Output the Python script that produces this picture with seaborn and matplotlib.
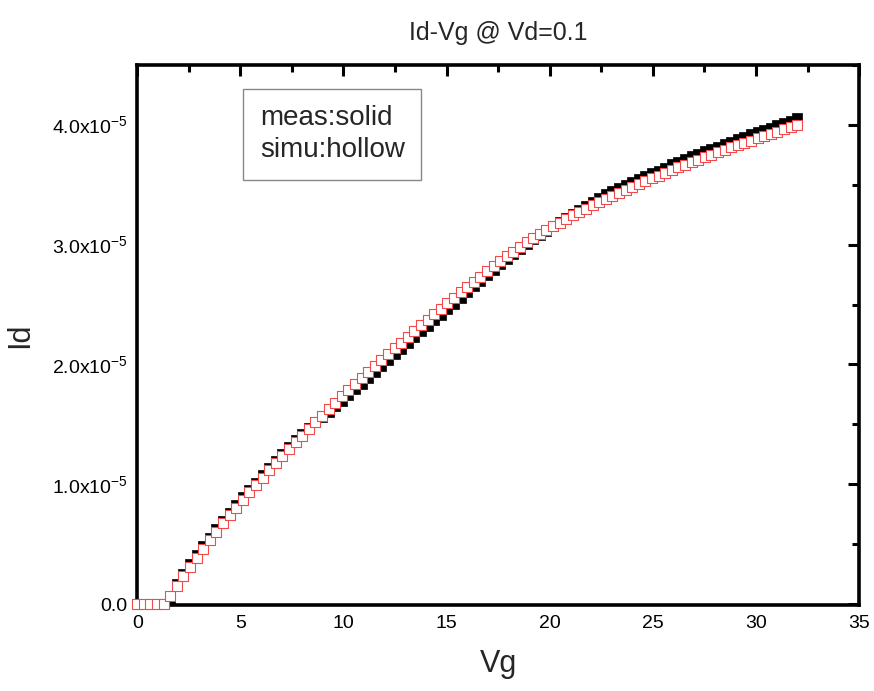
import numpy as np
import pandas as pd
import seaborn as sns
import matplotlib.pyplot as plt
from matplotlib.ticker import MultipleLocator, FuncFormatter

# gate voltage sweep (V), 0 to 32 V in 0.32 V steps
vg = [round(0.32 * i, 2) for i in range(101)]

# drain current, in units of 1e-5 A
id_meas = [0.000, 0.000, 0.000, 0.000, 0.002, 0.040, 0.165, 0.252, 0.332, 0.409,
           0.483, 0.555, 0.625, 0.693, 0.760, 0.826, 0.890, 0.953, 1.015, 1.076,
           1.136, 1.195, 1.254, 1.312, 1.369, 1.421, 1.470, 1.517, 1.562, 1.606,
           1.652, 1.698, 1.745, 1.792, 1.838, 1.888, 1.938, 1.987, 2.036, 2.084,
           2.132, 2.180, 2.228, 2.276, 2.323, 2.370, 2.416, 2.462, 2.509, 2.557,
           2.604, 2.651, 2.698, 2.745, 2.790, 2.835, 2.880, 2.922, 2.964, 3.006,
           3.044, 3.080, 3.117, 3.155, 3.190, 3.225, 3.260, 3.293, 3.326, 3.359,
           3.389, 3.419, 3.449, 3.474, 3.499, 3.524, 3.548, 3.572, 3.596, 3.619,
           3.642, 3.670, 3.692, 3.714, 3.736, 3.757, 3.778, 3.799, 3.819, 3.839,
           3.859, 3.883, 3.902, 3.921, 3.939, 3.957, 3.975, 3.995, 4.015, 4.035,
           4.055]

id_simu = [0.000, 0.000, 0.000, 0.000, 0.004, 0.065, 0.150, 0.232, 0.312, 0.389,
           0.463, 0.535, 0.605, 0.673, 0.740, 0.806, 0.870, 0.933, 0.995, 1.056,
           1.116, 1.175, 1.234, 1.292, 1.349, 1.406, 1.462, 1.517, 1.572, 1.626,
           1.680, 1.733, 1.785, 1.837, 1.888, 1.938, 1.988, 2.037, 2.086, 2.134,
           2.182, 2.230, 2.278, 2.326, 2.373, 2.420, 2.466, 2.512, 2.557, 2.602,
           2.646, 2.690, 2.734, 2.778, 2.820, 2.862, 2.904, 2.943, 2.982, 3.021,
           3.056, 3.089, 3.122, 3.155, 3.185, 3.215, 3.245, 3.273, 3.301, 3.329,
           3.355, 3.381, 3.407, 3.432, 3.457, 3.482, 3.506, 3.530, 3.554, 3.577,
           3.600, 3.623, 3.645, 3.667, 3.689, 3.710, 3.731, 3.752, 3.772, 3.792,
           3.812, 3.831, 3.850, 3.869, 3.887, 3.905, 3.923, 3.943, 3.963, 3.983,
           4.003]

df = pd.DataFrame({"Vg": vg,
                   "meas": np.array(id_meas) * 1e-5,
                   "simu": np.array(id_simu) * 1e-5})

sns.set_style("white")
plt.rcParams["font.family"] = ["Liberation Sans", "DejaVu Sans"]

fig = plt.figure(figsize=(8.74, 6.91), dpi=100)
ax = fig.add_axes([0.157, 0.124, 0.826, 0.782])

sns.scatterplot(data=df, x="Vg", y="meas", ax=ax, marker="s", s=52,
                color="black", edgecolor="black", linewidth=0.5, clip_on=False, zorder=3)
sns.scatterplot(data=df, x="Vg", y="simu", ax=ax, marker="s", s=52,
                facecolor="white", edgecolor="#f24a4a", linewidth=0.8, clip_on=False, zorder=4)

ax.set_xlim(0, 35)
ax.set_ylim(-0.01e-5, 4.5e-5)
ax.xaxis.set_major_locator(MultipleLocator(5))
ax.xaxis.set_minor_locator(MultipleLocator(2.5))
ax.yaxis.set_major_locator(MultipleLocator(1e-5))
ax.yaxis.set_minor_locator(MultipleLocator(0.5e-5))


def sci(v, pos):
    if abs(v) < 1e-12:
        return "0.0"
    return f"{v / 1e-5:.1f}x10$^{{\\mathregular{{-5}}}}$"


ax.yaxis.set_major_formatter(FuncFormatter(sci))

for sp in ax.spines.values():
    sp.set_linewidth(2.6)
    sp.set_color("black")
ax.tick_params(which="both", direction="in", top=True, right=True, width=2.2,
               labelsize=14, colors="black", pad=7)
ax.tick_params(which="major", length=8)
ax.tick_params(which="minor", length=5)

ax.set_title("Id-Vg @ Vd=0.1", fontsize=18, pad=18)
ax.set_xlabel("Vg", fontsize=22, labelpad=12)
ax.set_ylabel("Id", fontsize=22, labelpad=12)

ax.text(0.17, 0.925, "meas:solid\nsimu:hollow", transform=ax.transAxes,
        fontsize=20, va="top", ha="left", linespacing=1.3,
        bbox=dict(boxstyle="square,pad=0.6", facecolor="white",
                  edgecolor="#888888", linewidth=1.0))

fig.savefig("out.png", dpi=100)
